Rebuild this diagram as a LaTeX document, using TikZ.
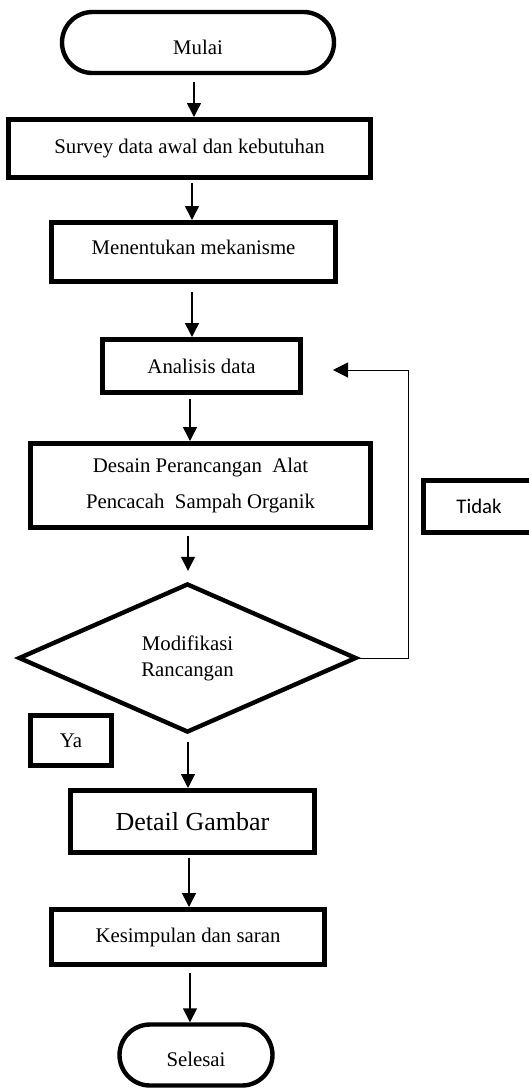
\documentclass[tikz,border=0pt]{standalone}
\usepackage{fontspec}
\setmainfont{Liberation Serif}
\newfontfamily\calibri{Carlito}
\usetikzlibrary{shapes.misc, shapes.geometric, arrows.meta}

\tikzset{
  box/.style={draw, line width=2.5pt, inner sep=0pt, font=\fontsize{10.4}{12.5}\selectfont},
  term/.style={draw, rounded rectangle, line width=2.2pt, inner sep=0pt, font=\fontsize{10.4}{12.5}\selectfont},
  decide/.style={draw, diamond, line width=2.2pt, inner sep=0pt, align=center, font=\fontsize{10.4}{13}\selectfont},
  arr/.style={line width=0.75pt, -{Triangle[length=7pt,width=7pt]}},
  backarr/.style={line width=0.5pt, -{Triangle[length=7.5pt,width=7.5pt]}}
}

\begin{document}
\begin{tikzpicture}[x=0.5pt, y=-0.5pt]
    \useasboundingbox (0,0) rectangle (529,1088);
    \node[term, minimum width=136pt, minimum height=30.5pt, text height=12.4pt] (mulai) at (198,42.5) {Mulai};
    \node[box, minimum width=181pt, minimum height=29pt] (survey) at (189.5,148.5) {Survey data awal dan kebutuhan};
    \node[box, minimum width=142pt, minimum height=29.5pt, text depth=5pt] (mekanisme) at (193.5,252) {Menentukan mekanisme};
    \node[box, minimum width=99pt, minimum height=26.5pt] (analisis) at (201.5,366) {Analisis data};
    \node[box, minimum width=170pt, minimum height=42pt, align=center, font=\fontsize{10.4}{18}\selectfont] (desain) at (200.5,485.5) {Desain Perancangan~ Alat\\Pencacah~ Sampah Organik};
    \node[decide, minimum width=169pt, minimum height=74.5pt] (modif) at (187.5,658) {Modifikasi\\Rancangan};
    \node[box, minimum width=55.5pt, minimum height=26pt, font=\calibri\fontsize{10.4}{12.5}\selectfont] (tidak) at (479,506.5) {Tidak};
    \node[box, minimum width=40.5pt, minimum height=25pt] (ya) at (71,740.5) {Ya};
    \node[box, minimum width=122pt, minimum height=31pt, font=\fontsize{13}{15}\selectfont] (detail) at (192.5,821.5) {Detail Gambar};
    \node[box, minimum width=136.5pt, minimum height=27.5pt] (simpul) at (188,937) {Kesimpulan dan saran};
    \node[term, minimum width=76.5pt, minimum height=30.5pt, text height=11.6pt] (selesai) at (196,1055) {Selesai};
    \coordinate (balik) at (333,370);
    \draw[arr] ([xshift=-2pt,yshift=-3.5pt]mulai.south) -- ([xshift=-2pt]mulai.south |- survey.north);
    \draw[arr] ([xshift=1.25pt,yshift=-1.25pt]survey.south) -- ([xshift=1.25pt]survey.south |- mekanisme.north);
    \draw[arr] ([xshift=-0.75pt,yshift=-3.75pt]mekanisme.south) -- ([xshift=-0.75pt]mekanisme.south |- analisis.north);
    \draw[arr] ([xshift=-5.75pt,yshift=-1.75pt]analisis.south) -- ([xshift=-5.75pt]analisis.south |- desain.north);
    \draw[arr] ([xshift=-6.25pt,yshift=-2.75pt]desain.south) -- ([xshift=-6.25pt,yshift=5.25pt]desain.south |- modif.north);
    \draw[arr] ([xshift=0.25pt,yshift=-3.75pt]modif.south) -- ([xshift=0.25pt]modif.south |- detail.north);
    \draw[arr] ([xshift=-1.75pt,yshift=-1.25pt]detail.south) -- ([xshift=-1.75pt]detail.south |- simpul.north);
    \draw[arr] ([xshift=1pt,yshift=-2.75pt]simpul.south) -- ([xshift=1pt]simpul.south |- selesai.north);
    \draw[backarr] (modif.east) -- ++(50,0) |- (balik);
\end{tikzpicture}
\end{document}
